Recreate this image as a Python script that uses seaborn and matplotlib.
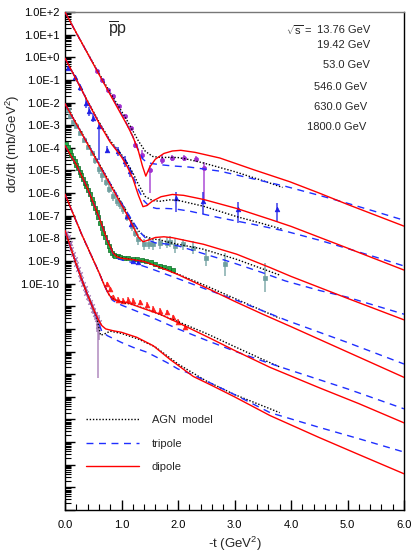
import numpy as np
import matplotlib
matplotlib.use("Agg")
import matplotlib.pyplot as plt
import seaborn as sns
from matplotlib.ticker import FixedLocator, MultipleLocator, LogLocator, NullFormatter

sns.set_theme(style="ticks")
plt.rcParams['font.family'] = ['Liberation Sans', 'DejaVu Sans']
plt.rcParams['mathtext.fontset'] = 'custom'
plt.rcParams['mathtext.rm'] = 'Liberation Sans'
plt.rcParams['mathtext.it'] = 'Liberation Sans:italic'

# ---------------------------------------------------------------
# Data (y values are log10 of d(sigma)/dt)
# ---------------------------------------------------------------
energy_labels = ["13.76 GeV", "19.42 GeV", "53.0 GeV", "546.0 GeV", "630.0 GeV", "1800.0 GeV"]

# set A
a_dip_t = [0, 0.2, 0.4, 0.6, 0.8, 1.0, 1.1, 1.2, 1.3, 1.37, 1.43, 1.5, 1.6, 1.75, 1.9, 2.05, 2.3, 2.74, 3.33, 3.98, 4.5, 5.0, 5.5, 6.0]
a_dip_y = [2.0, 1.08, 0.17, -0.75, -1.65, -2.55, -3.0, -3.5, -4.15, -4.8, -5.25, -4.85, -4.5, -4.25, -4.14, -4.11, -4.2, -4.45, -4.96, -5.5, -6.0, -6.5, -6.98, -7.46]
a_tri_t = [0, 0.2, 0.4, 0.6, 0.8, 1.0, 1.1, 1.2, 1.3, 1.38, 1.45, 1.55, 1.7, 1.9, 2.2, 2.74, 3.33, 3.9, 4.5, 5.0, 5.5, 6.0]
a_tri_y = [2.0, 1.08, 0.17, -0.73, -1.62, -2.5, -2.98, -3.5, -4.1, -4.5, -4.65, -4.7, -4.75, -4.8, -4.85, -5.03, -5.37, -5.7, -6.1, -6.45, -6.82, -7.2]
a_agn_t = [0, 0.2, 0.4, 0.6, 0.8, 1.0, 1.1, 1.2, 1.3, 1.42, 1.55, 1.7, 1.85, 2.0, 2.2, 2.45, 3.0, 3.5, 3.85]
a_agn_y = [2.0, 1.08, 0.18, -0.7, -1.56, -2.38, -2.8, -3.25, -3.7, -4.15, -4.38, -4.43, -4.42, -4.43, -4.52, -4.67, -5.05, -5.45, -5.75]
a_pts_t = [0.56, 0.65, 0.76, 0.85, 0.95, 1.06, 1.16, 1.24, 1.36, 1.50, 1.71, 1.90, 2.11, 2.31, 2.46]
a_pts_y = [-0.59, -1.0, -1.44, -1.73, -2.17, -2.61, -3.12, -3.86, -4.3, -4.96, -4.52, -4.45, -4.45, -4.49, -4.89]
a_pts_lo = [0.05, 0.05, 0.05, 0.05, 0.05, 0.08, 0.1, 0.15, 0.2, 1.03, 0.2, 0.15, 0.15, 0.15, 1.47]
a_pts_hi = [0.05, 0.05, 0.05, 0.05, 0.05, 0.08, 0.1, 0.15, 0.2, 0.2, 0.2, 0.15, 0.15, 0.15, 0.25]

# set B
b_dip_t = [0, 0.2, 0.4, 0.6, 0.8, 1.0, 1.1, 1.2, 1.3, 1.38, 1.45, 1.55, 1.7, 1.9, 2.1, 2.45, 3.04, 3.63, 4.0, 5.0, 6.0]
b_dip_y = [-0.04, -0.98, -1.95, -2.9, -3.75, -4.4, -4.82, -5.35, -6.1, -6.6, -6.55, -6.35, -6.16, -6.06, -6.1, -6.28, -6.68, -7.16, -7.47, -8.43, -9.4]
b_tri_t = [0, 0.2, 0.4, 0.6, 0.8, 1.0, 1.1, 1.2, 1.3, 1.4, 1.5, 1.62, 1.8, 1.95, 2.21, 2.74, 3.33, 3.9, 4.5, 5.0, 5.5, 6.0]
b_tri_y = [-0.04, -0.98, -1.95, -2.88, -3.72, -4.35, -4.75, -5.25, -5.85, -6.35, -6.6, -6.68, -6.68, -6.7, -6.8, -7.09, -7.38, -7.68, -8.08, -8.45, -8.83, -9.22]
b_agn_t = [0, 0.2, 0.4, 0.6, 0.8, 1.0, 1.1, 1.2, 1.3, 1.42, 1.55, 1.68, 1.85, 2.0, 2.45, 3.04, 3.5, 3.85]
b_agn_y = [-0.04, -0.97, -1.93, -2.85, -3.68, -4.3, -4.68, -5.1, -5.62, -6.15, -6.33, -6.36, -6.3, -6.32, -6.58, -7.04, -7.35, -7.6]
b_pts_t = [0.06, 0.18, 0.27, 0.38, 0.43, 0.50, 0.61, 0.75, 0.94, 1.06, 1.15, 1.96, 2.45, 3.07, 3.76]
b_pts_y = [-0.48, -0.88, -1.32, -2.02, -2.39, -2.68, -3.05, -4.08, -4.15, -4.6, -5.04, -6.2, -6.33, -6.69, -6.72]
b_pts_lo = [0.1, 0.1, 0.15, 0.2, 0.2, 0.2, 1.47, 0.15, 0.2, 0.25, 0.25, 0.65, 0.6, 0.65, 0.55]
b_pts_hi = [0.1, 0.1, 0.15, 0.2, 0.2, 0.2, 0.2, 0.15, 0.2, 0.25, 0.2, 0.25, 0.4, 0.3, 0.3]

# set C
c_dip_t = [0, 0.1, 0.27, 0.47, 0.65, 0.85, 1.03, 1.18, 1.3, 1.38, 1.47, 1.6, 1.75, 1.9, 2.45, 3.04, 3.63, 4.0, 5.0, 6.0]
c_dip_y = [-2.05, -2.5, -3.25, -4.15, -4.95, -5.85, -6.65, -7.35, -7.95, -8.15, -8.08, -7.96, -7.93, -7.97, -8.26, -8.7, -9.29, -9.68, -10.65, -11.6]
c_tri_t = [0, 0.1, 0.27, 0.47, 0.65, 0.85, 1.0, 1.15, 1.3, 1.45, 1.6, 1.8, 2.0, 2.68, 3.0, 3.5, 3.9, 4.5, 5.0, 6.0]
c_tri_y = [-2.05, -2.5, -3.25, -4.13, -4.92, -5.8, -6.45, -7.05, -7.65, -8.05, -8.2, -8.25, -8.33, -8.85, -9.1, -9.52, -9.88, -10.3, -10.6, -11.35]
c_agn_t = [0, 0.1, 0.27, 0.47, 0.65, 0.85, 1.03, 1.2, 1.32, 1.42, 1.55, 1.7, 1.86, 2.45, 3.04, 3.5, 3.8]
c_agn_y = [-2.05, -2.48, -3.22, -4.1, -4.9, -5.78, -6.55, -7.3, -7.72, -7.92, -8.02, -8.08, -8.19, -8.48, -8.93, -9.35, -9.62]
c_pts_t = [0.05, 0.09, 0.15, 0.20, 0.27, 0.33, 0.40, 0.47, 0.53, 0.60, 0.65, 0.72, 0.78, 0.85, 0.92, 0.97, 1.03, 1.10,
           1.18, 1.24, 1.30, 1.39, 1.48, 1.56, 1.68, 1.80, 1.86, 1.95, 2.09, 2.27, 2.50, 2.83, 3.54]
c_pts_y = [-2.35, -2.61, -2.85, -3.05, -3.34, -3.65, -3.95, -4.22, -4.55, -4.95, -5.2, -5.5, -5.8, -6.14, -6.35, -6.5, -6.72, -7.05,
           -7.46, -7.75, -8.04, -8.26, -8.24, -8.26, -8.22, -8.19, -8.15, -8.34, -8.27, -8.41, -8.85, -9.15, -9.73]
c_pts_err = [0.05, 0.05, 0.05, 0.05, 0.08, 0.08, 0.1, 0.1, 0.15, 0.2, 0.3, 0.2, 0.2, 0.2, 0.2, 0.2, 0.2, 0.2,
             0.2, 0.2, 0.25, 0.25, 0.25, 0.25, 0.25, 0.25, 0.25, 0.3, 0.25, 0.3, 0.35, 0.5, 0.65]
c_blue_t = [1.09, 1.17]
c_blue_y = [-7.02, -7.35]

# set D
d_dip_t = [0, 0.2, 0.4, 0.6, 0.75, 0.85, 0.92, 1.0, 1.2, 1.4, 1.7, 2.0, 2.3, 2.6, 3.0, 3.5, 4.0, 5.0, 6.0]
d_dip_y = [-3.9, -4.75, -5.8, -7.05, -8.1, -8.65, -8.82, -8.88, -8.94, -9.02, -9.3, -9.6, -9.95, -10.3, -10.78, -11.35, -11.9, -13.02, -14.14]
d_tri_t = [0, 0.2, 0.4, 0.6, 0.75, 0.85, 0.92, 1.0, 1.2, 1.5, 2.0, 2.5, 3.0, 3.5, 3.92, 5.0, 6.0]
d_tri_y = [-3.9, -4.75, -5.8, -7.05, -8.1, -8.68, -8.88, -8.95, -9.07, -9.32, -9.78, -10.25, -10.7, -11.2, -11.62, -12.6, -13.55]
d_agn_t = [0, 0.2, 0.4, 0.6, 0.75, 0.85, 0.92, 1.0, 1.2, 1.4, 1.7, 2.0, 2.5, 3.0, 3.5, 3.8]
d_agn_y = [-3.9, -4.75, -5.8, -7.05, -8.1, -8.63, -8.8, -8.86, -8.93, -9.02, -9.28, -9.58, -10.1, -10.65, -11.2, -11.53]
d_pts_t = [0.02, 0.05, 0.08, 0.11, 0.14, 0.17, 0.20, 0.23, 0.26, 0.29, 0.32, 0.35, 0.38, 0.41, 0.44, 0.47, 0.50, 0.53,
           0.56, 0.59, 0.62, 0.65, 0.68, 0.71, 0.74, 0.77, 0.80, 0.83, 0.86, 0.89, 0.93, 0.98, 1.05, 1.12, 1.20, 1.28,
           1.36, 1.44, 1.52, 1.60, 1.68, 1.76, 1.84, 1.92]
d_pts_y = [-3.85, -3.98, -4.15, -4.3, -4.45, -4.6, -4.75, -4.9, -5.05, -5.2, -5.38, -5.55, -5.7, -5.88, -6.05, -6.25, -6.45, -6.65,
           -6.85, -7.05, -7.3, -7.55, -7.75, -7.95, -8.15, -8.34, -8.5, -8.63, -8.72, -8.78, -8.8, -8.83, -8.85, -8.87, -8.9, -8.93,
           -8.95, -9.0, -9.05, -9.12, -9.2, -9.27, -9.33, -9.4]
d_blue_t = [1.21, 1.30]
d_blue_y = [-9.0, -9.05]

# set E
e_dip_t = [0, 0.1, 0.2, 0.3, 0.4, 0.5, 0.6, 0.7, 0.78, 0.85, 0.95, 1.09, 1.39, 1.68, 1.98, 2.27, 2.6, 3.0, 3.63, 4.5, 5.2, 6.0]
e_dip_y = [-6.05, -6.65, -7.25, -7.85, -8.4, -8.95, -9.5, -10.1, -10.5, -10.69, -10.78, -10.83, -11.1, -11.35, -11.7, -12.05, -12.45, -12.95, -13.7, -14.6, -15.3, -16.15]
e_tri_t = [0, 0.1, 0.2, 0.3, 0.4, 0.5, 0.6, 0.7, 0.78, 0.85, 1.0, 1.5, 2.0, 2.5, 3.0, 3.5, 3.92, 5.0, 6.0]
e_tri_y = [-6.05, -6.65, -7.25, -7.85, -8.4, -8.95, -9.5, -10.1, -10.52, -10.75, -10.95, -11.45, -12.0, -12.5, -12.98, -13.42, -13.77, -14.65, -15.53]
e_agn_t = [0, 0.1, 0.2, 0.3, 0.4, 0.5, 0.6, 0.7, 0.78, 0.85, 0.95, 1.2, 1.5, 2.0, 2.5, 3.0, 3.5, 3.8]
e_agn_y = [-6.05, -6.65, -7.25, -7.85, -8.4, -8.95, -9.5, -10.08, -10.48, -10.68, -10.78, -10.93, -11.18, -11.68, -12.2, -12.78, -13.35, -13.68]
e_pts_t = [0.74, 0.80, 0.855, 0.94, 1.03, 1.12, 1.21, 1.33, 1.45, 1.56, 1.68, 1.80, 1.92, 2.0, 2.12]
e_pts_y = [-10.03, -10.25, -10.61, -10.72, -10.76, -10.72, -10.76, -10.83, -10.95, -11.12, -11.2, -11.27, -11.49, -11.68, -11.93]

# set F
f_dip_t = [0, 0.1, 0.2, 0.3, 0.4, 0.5, 0.58, 0.65, 0.72, 0.85, 1.0, 1.27, 1.56, 1.86, 2.27, 2.6, 3.0, 3.63, 4.5, 5.2, 6.0]
f_dip_y = [-7.65, -8.4, -9.15, -9.85, -10.5, -11.1, -11.55, -11.85, -12.0, -12.08, -12.15, -12.37, -12.74, -13.35, -14.1, -14.5, -15.0, -15.83, -16.8, -17.55, -18.4]
f_tri_t = [0, 0.1, 0.2, 0.3, 0.4, 0.5, 0.58, 0.65, 0.75, 1.0, 1.21, 1.45, 1.8, 2.0, 2.24, 2.6, 3.0, 3.63, 4.5, 5.2, 6.0]
f_tri_y = [-7.65, -8.4, -9.15, -9.85, -10.5, -11.1, -11.6, -12.1, -12.3, -12.6, -12.82, -13.03, -13.48, -13.77, -14.0, -14.42, -14.9, -15.7, -16.35, -16.85, -17.44]
f_agn_t = [0, 0.1, 0.2, 0.3, 0.4, 0.5, 0.58, 0.63, 0.7, 0.8, 1.0, 1.3, 1.6, 2.0, 2.5, 3.0, 3.5, 3.8]
f_agn_y = [-7.65, -8.4, -9.15, -9.85, -10.5, -11.1, -11.7, -12.28, -12.22, -12.1, -12.2, -12.45, -12.8, -13.55, -14.3, -14.9, -15.4, -15.7]
f_pts_t = [0.02, 0.05, 0.08, 0.11, 0.14, 0.17, 0.20, 0.23, 0.26, 0.29, 0.32, 0.35, 0.38, 0.41, 0.44, 0.47, 0.50, 0.53, 0.56, 0.59, 0.61]
f_pts_y = [-7.75, -7.95, -8.2, -8.45, -8.68, -8.9, -9.12, -9.35, -9.58, -9.78, -10.0, -10.2, -10.4, -10.6, -10.8, -10.98, -11.15, -11.35, -11.55, -11.85, -11.7]
f_pts_lo = [0.05, 0.05, 0.05, 0.05, 0.05, 0.05, 0.05, 0.05, 0.08, 0.08, 0.1, 0.1, 0.1, 0.15, 0.15, 0.15, 0.2, 0.25, 0.6, 2.3, 0.8]
f_pts_hi = [0.05, 0.05, 0.05, 0.05, 0.05, 0.05, 0.05, 0.05, 0.08, 0.08, 0.1, 0.1, 0.1, 0.15, 0.15, 0.15, 0.2, 0.25, 0.3, 0.3, 0.3]

# ---------------------------------------------------------------
RED = "#ff0000"
BLUE = "#1f2fff"
DIP_STYLE = dict(color=RED, linewidth=1.0, linestyle="-")
TRI_STYLE = dict(color=BLUE, linewidth=1.0, linestyle=(0, (5, 4)))
AGN_STYLE = dict(color="black", linewidth=1.0, linestyle=(0, (1, 1.3)))


def draw_model(ax, t, logy, style, label=None):
    sns.lineplot(x=np.array(t), y=10.0 ** np.array(logy), ax=ax, sort=False,
                 estimator=None, label=label, zorder=4, **style)


def draw_points(ax, t, logy, lo, hi, color, marker, size, edge=None, lw=0.5):
    t = np.array(t)
    y = 10.0 ** np.array(logy)
    lo_abs = y - 10.0 ** (np.array(logy) - np.array(lo))
    hi_abs = 10.0 ** (np.array(logy) + np.array(hi)) - y
    ax.errorbar(t, y, yerr=[lo_abs, hi_abs], fmt="none", ecolor=color,
                elinewidth=1.2, alpha=0.8, zorder=2)
    sns.scatterplot(x=t, y=y, ax=ax, marker=marker, s=size, color=color,
                    edgecolor=edge if edge else color, linewidth=lw, zorder=3, legend=False)


fig = plt.figure(figsize=(4.13, 5.58), dpi=100)
ax = fig.add_axes([65 / 413, 48 / 558, 339 / 413, 498 / 558])
ax.set_yscale("log")

# data points
draw_points(ax, a_pts_t, a_pts_y, a_pts_lo, a_pts_hi, "#a030d0", "o", 9)
draw_points(ax, b_pts_t, b_pts_y, b_pts_lo, b_pts_hi, "#1f1fe6", "^", 11)
draw_points(ax, c_pts_t, c_pts_y, c_pts_err, c_pts_err, "#6f9f9f", "s", 5)
draw_points(ax, c_blue_t, c_blue_y, [0.15, 0.15], [0.15, 0.15], "#1f1fe6", "^", 11)
draw_points(ax, d_pts_t, d_pts_y, [0.05] * len(d_pts_t), [0.05] * len(d_pts_t),
            "#22aa44", "s", 8, edge="#0d6a25", lw=0.5)
draw_points(ax, d_blue_t, d_blue_y, [0.1, 0.1], [0.1, 0.1], "#1f1fe6", "^", 11)
draw_points(ax, e_pts_t, e_pts_y, [0.12] * len(e_pts_t), [0.12] * len(e_pts_t), "#ff2020", "^", 12)
draw_points(ax, f_pts_t, f_pts_y, f_pts_lo, f_pts_hi, "#a478b4", "x", 10, lw=1.0)

# model curves
sets = [
    (a_dip_t, a_dip_y, a_tri_t, a_tri_y, a_agn_t, a_agn_y),
    (b_dip_t, b_dip_y, b_tri_t, b_tri_y, b_agn_t, b_agn_y),
    (c_dip_t, c_dip_y, c_tri_t, c_tri_y, c_agn_t, c_agn_y),
    (d_dip_t, d_dip_y, d_tri_t, d_tri_y, d_agn_t, d_agn_y),
    (e_dip_t, e_dip_y, e_tri_t, e_tri_y, e_agn_t, e_agn_y),
    (f_dip_t, f_dip_y, f_tri_t, f_tri_y, f_agn_t, f_agn_y),
]
for i, (dt, dy, tt, ty, at, ay) in enumerate(sets):
    first = i == 0
    draw_model(ax, at, ay, AGN_STYLE, "AGN  model" if first else None)
    draw_model(ax, tt, ty, TRI_STYLE, "tripole" if first else None)
    draw_model(ax, dt, dy, DIP_STYLE, "dipole" if first else None)

# axes
ax.set_xlim(0, 6.0)
ax.set_ylim(1e-20, 1e2)
decades = list(range(-20, 3))
ax.yaxis.set_major_locator(FixedLocator([10.0 ** k for k in decades]))
ax.set_yticklabels([f"1.0E{k:+d}" if k >= -10 else "" for k in decades])
ax.yaxis.set_minor_locator(LogLocator(base=10, subs=np.arange(2, 10), numticks=100))
ax.yaxis.set_minor_formatter(NullFormatter())
ax.xaxis.set_major_locator(MultipleLocator(1.0))
ax.xaxis.set_minor_locator(MultipleLocator(0.2))
ax.set_xticks(np.arange(0, 6.01, 1.0))
ax.set_xticklabels([f"{v:.1f}" for v in np.arange(0, 6.01, 1.0)])
ax.tick_params(which="both", direction="in", top=False, right=False, labelsize=8, colors="black")
ax.tick_params(which="major", length=7, width=1.0)
ax.tick_params(which="minor", length=4, width=0.8)
ax.tick_params(axis="x", which="major", pad=7)
ax.tick_params(axis="y", which="major", pad=4)
for side in ["left", "bottom", "right", "top"]:
    ax.spines[side].set_color("black")
    ax.spines[side].set_linewidth(1.0)
ax.spines["top"].set_color("#777777")

ax.set_xlabel("-t (GeV$^2$)", fontsize=9.5, labelpad=4)
ax.set_ylabel("d\u03c3/dt (mb/GeV$^2$)", fontsize=9.5)
ax.yaxis.set_label_coords(-0.128, 0.735)

# annotations
ax.text(0.127, 0.964, r"$\overline{\mathrm{p}}\mathrm{p}$", transform=ax.transAxes,
        fontsize=11.5, ha="left", va="center")
ax.text(0.729, 0.964, r"$\sqrt{\mathrm{s}}$ =", transform=ax.transAxes,
        fontsize=8, ha="right", va="center")
label_x = [0.90, 0.90, 0.90, 0.89, 0.89, 0.89]
label_y = [0.964, 0.934, 0.894, 0.850, 0.809, 0.769]
for lab, lx, ly in zip(energy_labels, label_x, label_y):
    ax.text(lx, ly, lab, transform=ax.transAxes, fontsize=8, ha="right", va="center")

leg = ax.legend(loc="upper left", bbox_to_anchor=(0.062, 0.19), frameon=False,
                fontsize=8, handlelength=4.8, handletextpad=1.1, labelspacing=1.2,
                borderpad=0, borderaxespad=0)

fig.savefig("out.png", dpi=100)
